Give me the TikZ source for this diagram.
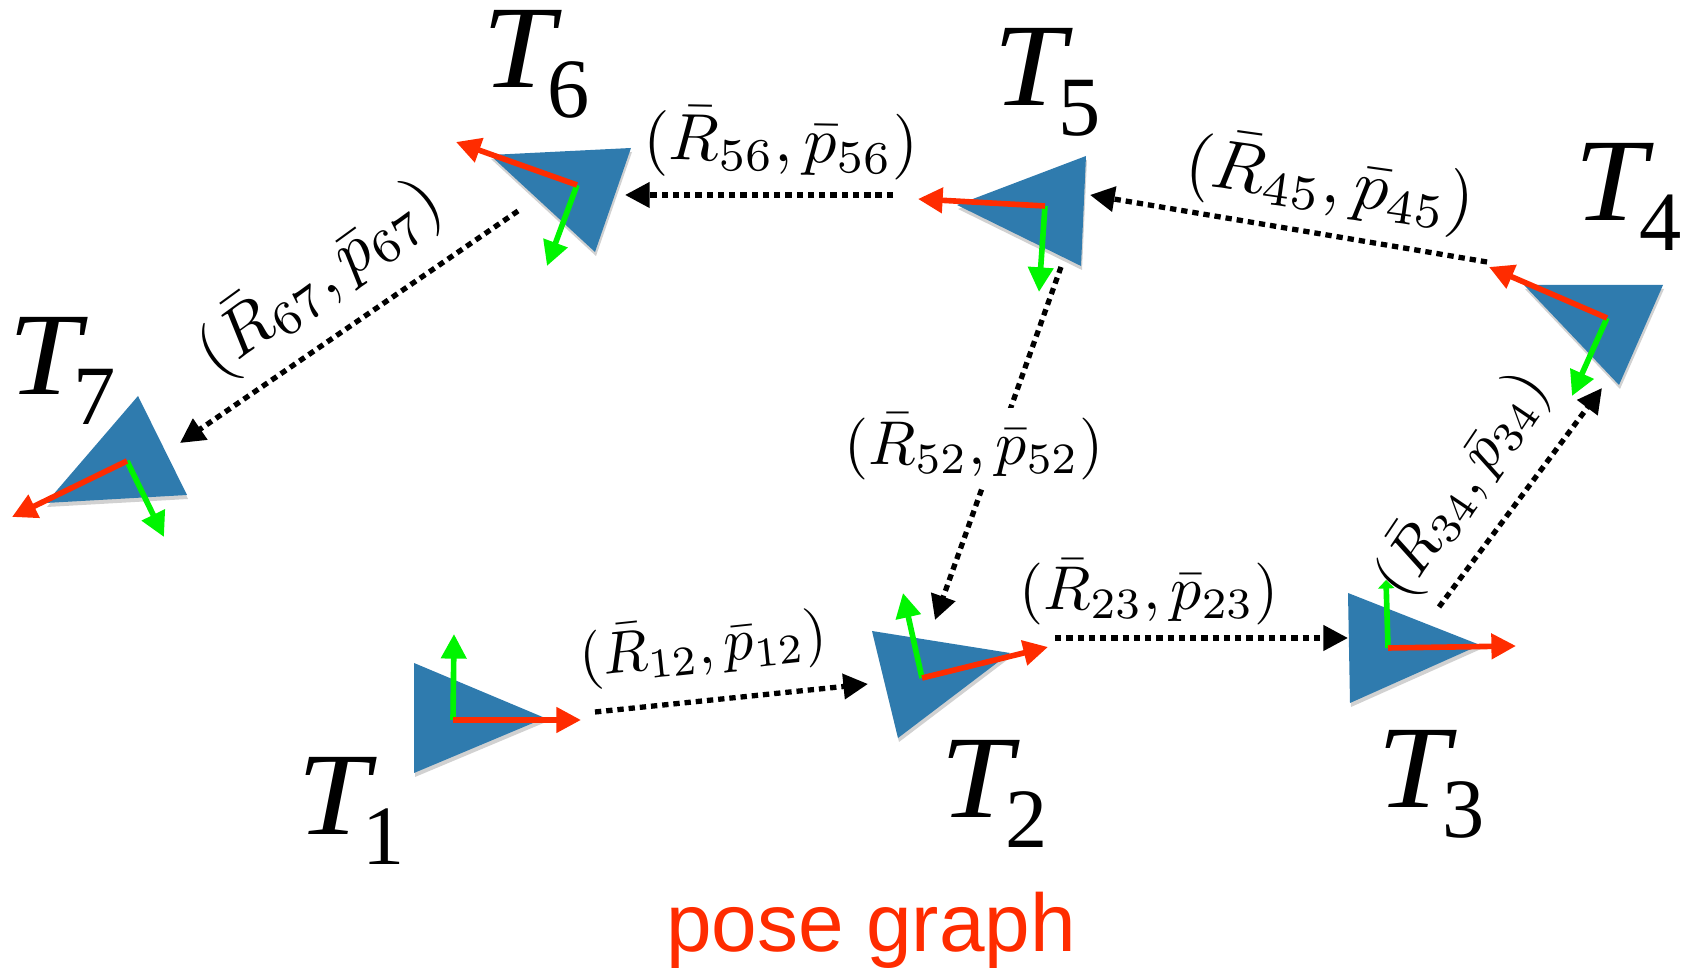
\documentclass[tikz,border=0pt]{standalone}
\usepackage{amsmath, amssymb}
\usepackage{fontspec}
\usepackage{tikz}
\usetikzlibrary{arrows.meta,shadows}
\newfontfamily\posefont{Liberation Serif}
\newfontfamily\captionfont{Liberation Sans}
\definecolor{poseblue}{HTML}{2F7BAE}
\definecolor{axisred}{HTML}{FF2C00}
\definecolor{axisgreen}{HTML}{00F500}
\newcommand{\posename}[1]{\scalebox{1.1}[1]{\itshape T}\kern-2pt\raisebox{-8.3pt}{\fontsize{24}{26}\selectfont #1}}
\newcommand{\measure}[1]{$(\bar{R}_{#1},\bar{p}_{#1})$}
\tikzset{
  posebody/.style={fill=poseblue, drop shadow={shadow xshift=0.1mm, shadow yshift=-0.4mm, opacity=0.18, fill=black}},
  xaxis/.style={-{Triangle[length=7pt,width=7pt]}, axisred, line width=1.6pt},
  yaxis/.style={-{Triangle[length=7pt,width=7pt]}, axisgreen, line width=1.6pt},
  yaxiscut/.style={-{Triangle[length=2.4pt,width=4.6pt]}, axisgreen, line width=1.6pt},
  edgearrow/.style={-{Triangle[length=7pt,width=7pt]}, line width=1.5pt, dash pattern=on 1.8pt off 1.4pt},
  posename/.style={anchor=base west, inner sep=0pt, font=\posefont\fontsize{33.5}{36}\selectfont},
  edgelabel/.style={inner sep=1pt}
}
\begin{document}
\begin{tikzpicture}[x=0.01cm, y=-0.01cm]
      \useasboundingbox (0,0) rectangle (1687,968);
      \fill[posebody] (414,663) -- (545,718) -- (414,773) -- cycle;
      \fill[posebody] (872,631) -- (1010,653) -- (898,738) -- cycle;
      \fill[posebody] (1348,593) -- (1480,645) -- (1350,703) -- cycle;
      \fill[posebody] (1524,285) -- (1663,285) -- (1619,385) -- cycle;
      \fill[posebody] (1086,156) -- (1081,266) -- (957,205) -- cycle;
      \fill[posebody] (490,155) -- (631,148) -- (595,252) -- cycle;
      \fill[posebody] (138,396) -- (187,495) -- (46,503) -- cycle;
      \coordinate (o1) at (453,720);
      \coordinate (x1) at (581,720);
      \coordinate (y1) at (454,634);
      \coordinate (o2) at (922,678);
      \coordinate (x2) at (1048,647);
      \coordinate (y2) at (903,593);
      \coordinate (o3) at (1388,648);
      \coordinate (x3) at (1516,646);
      \coordinate (y3) at (1386,580);
      \coordinate (o4) at (1607,318);
      \coordinate (x4) at (1489,267);
      \coordinate (y4) at (1572,396);
      \coordinate (o5) at (1045,206);
      \coordinate (x5) at (918,199);
      \coordinate (y5) at (1039,292);
      \coordinate (o6) at (577,185);
      \coordinate (x6) at (456,142);
      \coordinate (y6) at (547,266);
      \coordinate (o7) at (127,461);
      \coordinate (x7) at (12,517);
      \coordinate (y7) at (164,537);
      \draw[yaxis] (o1) -- (y1);
      \draw[xaxis] (o1) -- (x1);
      \draw[yaxis] (o2) -- (y2);
      \draw[xaxis] (o2) -- (x2);
      \draw[yaxiscut] (o3) -- (y3);
      \draw[xaxis] (o3) -- (x3);
      \draw[yaxis] (o4) -- (y4);
      \draw[xaxis] (o4) -- (x4);
      \draw[yaxis] (o5) -- (y5);
      \draw[xaxis] (o5) -- (x5);
      \draw[yaxis] (o6) -- (y6);
      \draw[xaxis] (o6) -- (x6);
      \draw[yaxis] (o7) -- (y7);
      \draw[xaxis] (o7) -- (x7);
      \coordinate (out12) at (595,712);
      \coordinate (in12) at (868,684);
      \coordinate (out23) at (1055,638);
      \coordinate (in23) at (1348,638);
      \coordinate (out34) at (1439,607);
      \coordinate (in34) at (1602,388);
      \coordinate (out45) at (1487,262);
      \coordinate (in45) at (1090,195);
      \coordinate (out56) at (893,195);
      \coordinate (in56) at (625,195);
      \coordinate (out67) at (518,211);
      \coordinate (in67) at (180,443);
      \coordinate (out52) at (1061,267);
      \coordinate (in52) at (935,620);
      \draw[edgearrow] (out12) -- (in12);
      \draw[edgearrow] (out23) -- (in23);
      \draw[edgearrow] (out34) -- (in34);
      \draw[edgearrow] (out45) -- (in45);
      \draw[edgearrow] (out56) -- (in56);
      \draw[edgearrow] (out67) -- (in67);
      \draw[edgearrow] (out52) -- (in52);
      \node[edgelabel, scale=1.69, rotate=6] (m12) at (703,647) {\measure{12}};
      \node[edgelabel, scale=1.76] (m23) at (1149,592) {\measure{23}};
      \node[edgelabel, scale=1.75, rotate=56] (m34) at (1462,484) {\measure{34}};
      \node[edgelabel, scale=1.98, rotate=-8] (m45) at (1330,183) {\measure{45}};
      \node[edgelabel, scale=1.87, rotate=-1] (m56) at (781,143) {\measure{56}};
      \node[edgelabel, scale=1.93, rotate=36] (m67) at (320,278) {\measure{67}};
      \node[edgelabel, scale=1.76, fill=white] (m52) at (974,447) {\measure{52}};
      \node[posename] (T1) at (297,835) {\posename{1}};
      \node[posename] (T2) at (940,818) {\posename{2}};
      \node[posename] (T3) at (1377,808) {\posename{3}};
      \node[posename] (T4) at (1574,221) {\posename{4}};
      \node[posename] (T5) at (993,106) {\posename{5}};
      \node[posename] (T6) at (482,88) {\posename{6}};
      \node[posename] (T7) at (8,395) {\posename{7}};
      \node[text=axisred, inner sep=0pt, font=\captionfont\fontsize{23.3}{26}\selectfont] (caption) at (871,930) {pose graph};
    \end{tikzpicture}
\end{document}
